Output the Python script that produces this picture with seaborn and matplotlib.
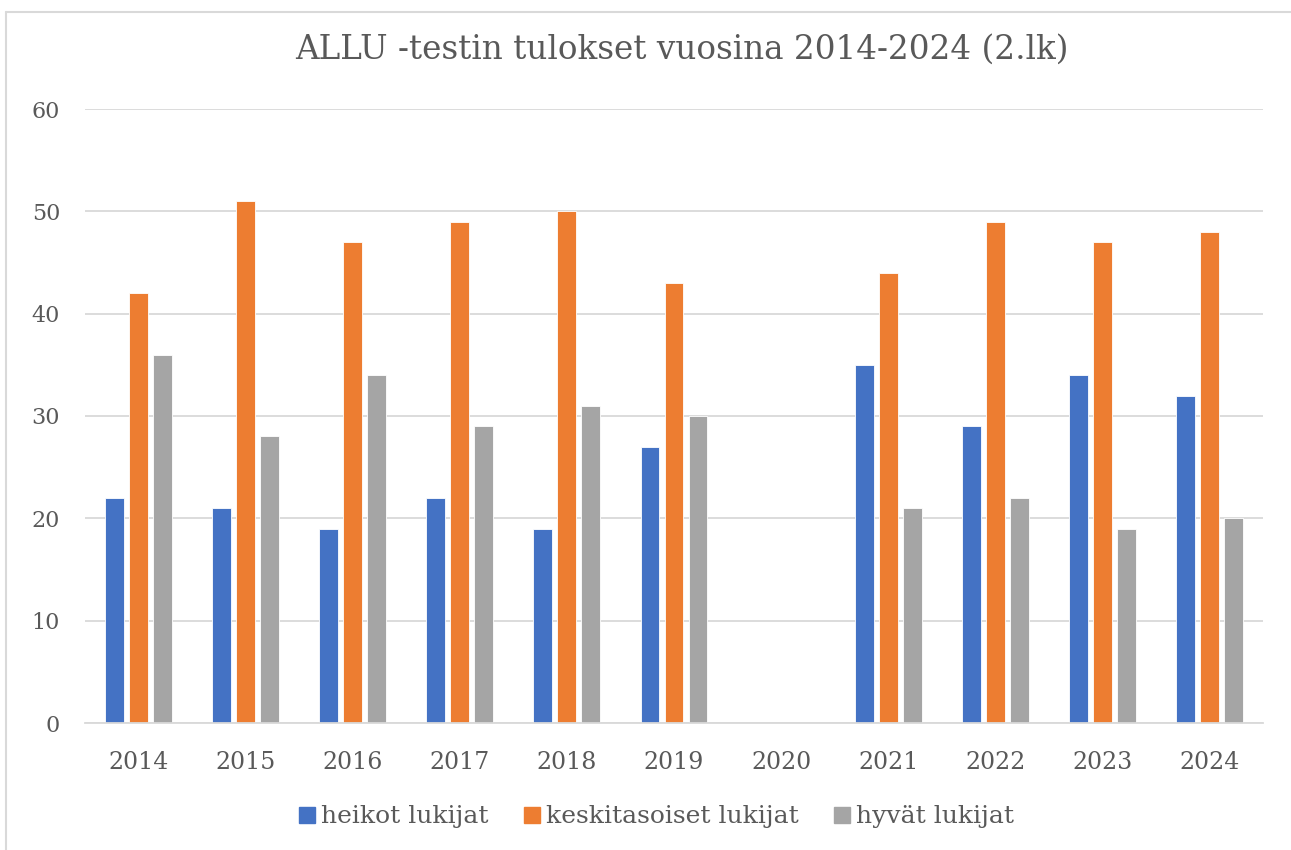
import numpy as np
import pandas as pd
import matplotlib
matplotlib.use('Agg')
import matplotlib.pyplot as plt
from matplotlib.lines import Line2D
import seaborn as sns

years = ['2014', '2015', '2016', '2017', '2018', '2019', '2020', '2021', '2022', '2023', '2024']
heikot = [22, 21, 19, 22, 19, 27, np.nan, 35, 29, 34, 32]
keskitasoiset = [42, 51, 47, 49, 50, 43, np.nan, 44, 49, 47, 48]
hyvat = [36, 28, 34, 29, 31, 30, np.nan, 21, 22, 19, 20]
series_names = ['heikot lukijat', 'keskitasoiset lukijat', 'hyvät lukijat']
colors = ['#4472C4', '#ED7D31', '#A5A5A5']

df = pd.DataFrame({'Vuosi': years,
                   series_names[0]: heikot,
                   series_names[1]: keskitasoiset,
                   series_names[2]: hyvat})
df_long = df.melt(id_vars='Vuosi', var_name='Ryhmä', value_name='Arvo')

sns.set_style('white')
plt.rcParams['font.family'] = ['DejaVu Serif']
text_color = '#595959'
grid_color = '#D9D9D9'

fig = plt.figure(figsize=(12.91, 8.5), dpi=100)
ax = fig.add_axes([85 / 1291, 1 - 723 / 850, (1263 - 85) / 1291, (723 - 109) / 850])

sns.barplot(data=df_long, x='Vuosi', y='Arvo', hue='Ryhmä', order=years,
            hue_order=series_names, palette=colors, width=0.672,
            errorbar=None, saturation=1, legend=False, ax=ax)

# narrow each bar so there is a small gap inside the group
bar_w = 0.177
for p in ax.patches:
    cx = p.get_x() + p.get_width() / 2
    p.set_width(bar_w)
    p.set_x(cx - bar_w / 2)
    p.set_edgecolor('white')
    p.set_linewidth(0.6)

ax.set_ylim(0, 60)
ax.set_xlim(-0.5, len(years) - 0.5)
ax.set_yticks(range(0, 61, 10))
ax.yaxis.grid(True, color=grid_color, linewidth=1.3)
ax.set_axisbelow(True)
for s in ['top', 'right', 'left']:
    ax.spines[s].set_visible(False)
ax.spines['bottom'].set_color(grid_color)
ax.spines['bottom'].set_linewidth(1.3)
ax.tick_params(axis='both', length=0, colors=text_color)
ax.tick_params(axis='y', pad=18, labelsize=16)
ax.tick_params(axis='x', pad=20, labelsize=17)
ax.set_xlabel('')
ax.set_ylabel('')

fig.text(682 / 1291, 1 - 50 / 850, 'ALLU -testin tulokset vuosina 2014-2024 (2.lk)',
         ha='center', va='center', fontsize=23.5, color=text_color)

handles = [Line2D([], [], marker='s', linestyle='none', markersize=12,
                  markerfacecolor=c, markeredgecolor=c) for c in colors]
fig.legend(handles, series_names, loc='center', bbox_to_anchor=(655 / 1291, 1 - 817 / 850),
           ncol=3, frameon=False, fontsize=18, labelcolor=text_color,
           handletextpad=0.1, columnspacing=1.3, handlelength=0.9)

# thin frame lines along the top and left edge
fig.add_artist(Line2D([6 / 1291, 1], [1 - 12 / 850, 1 - 12 / 850], color=grid_color, linewidth=1.5))
fig.add_artist(Line2D([6 / 1291, 6 / 1291], [0, 1 - 12 / 850], color=grid_color, linewidth=1.5))

fig.savefig('out.png', dpi=100, facecolor='white')
